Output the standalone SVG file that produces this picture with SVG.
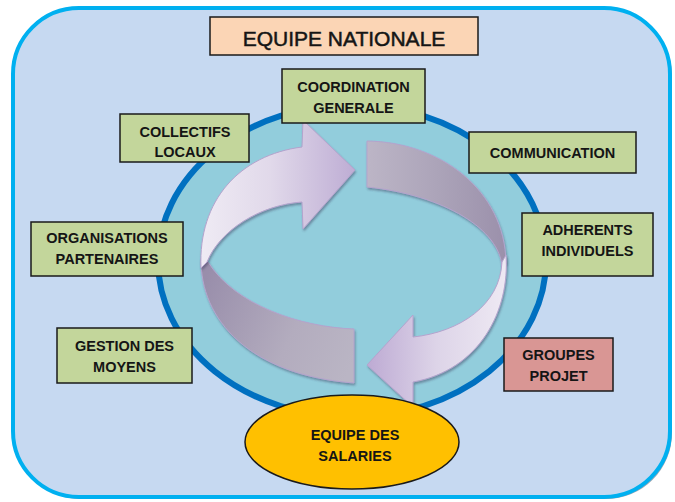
<svg xmlns="http://www.w3.org/2000/svg" width="675" height="502" viewBox="0 0 675 502">
<defs>
<style>
.box{fill:#C3D69B;stroke:#1a1a1a;stroke-width:1.5}
.red{fill:#D99694}
.lbl{font-family:"Liberation Sans",Arial,sans-serif;font-weight:bold;font-size:14.5px;fill:#151515;text-anchor:middle}
.title{font-family:"Liberation Sans",Arial,sans-serif;font-size:21px;fill:#151515;stroke:#151515;stroke-width:0.5;text-anchor:middle}
.arr{stroke:#B4A3CD;stroke-width:1;filter:url(#sh)}
</style>
<linearGradient id="gL1" x1="200" y1="0" x2="355" y2="0" gradientUnits="userSpaceOnUse">
<stop offset="0" stop-color="#EFEBF4"/><stop offset="0.45" stop-color="#E1D9EA"/><stop offset="1" stop-color="#BEADD4"/>
</linearGradient>
<linearGradient id="gL2" x1="200" y1="290" x2="354" y2="360" gradientUnits="userSpaceOnUse">
<stop offset="0" stop-color="#998EAB"/><stop offset="0.6" stop-color="#B3ACBE"/><stop offset="1" stop-color="#BAB5C4"/>
</linearGradient>
<linearGradient id="gR1" x1="367" y1="0" x2="506" y2="0" gradientUnits="userSpaceOnUse">
<stop offset="0" stop-color="#BCB5C6"/><stop offset="0.5" stop-color="#ACA4B9"/><stop offset="1" stop-color="#9B90AB"/>
</linearGradient>
<linearGradient id="gR2" x1="506" y1="0" x2="367" y2="0" gradientUnits="userSpaceOnUse">
<stop offset="0" stop-color="#EEE9F3"/><stop offset="0.5" stop-color="#DDD4E8"/><stop offset="1" stop-color="#BDAAD3"/>
</linearGradient>
<filter id="sh" x="-10%" y="-10%" width="130%" height="130%">
<feDropShadow dx="1" dy="2" stdDeviation="1.2" flood-color="#3a3a5a" flood-opacity="0.45"/>
</filter>
</defs>

<g id="frame">
<rect x="15" y="10" width="657" height="489" rx="66" fill="#9aa7b5"/>
<rect x="13" y="8" width="657" height="489" rx="66" fill="#C6D9F1" stroke="#00B0F0" stroke-width="4"/>
<ellipse cx="352" cy="261" rx="194" ry="156" fill="#92CDDC" stroke="#0070C0" stroke-width="6"/>
</g>

<g id="connectors">
<path class="arr" fill="url(#gL2)" d="M 201,258 C 200,320 250,375 354,383 L 354,329 C 300,327 235,305 208,262 Z"/>
<path class="arr" fill="url(#gR1)" d="M 367,141 C 440,142 505,190 506,263 L 502,267 C 500,230 445,195 367,187 Z"/>
<path class="arr" fill="url(#gL1)" d="M 201,268 C 198,200 240,155 302,147 L 303,120 L 355,170 L 303,229 L 302,202 C 260,205 220,230 207,262 Z"/>
<path class="arr" fill="url(#gR2)" d="M 506,255 C 510,310 480,370 413,382 L 413,407 L 367,365 L 413,315 L 413,337 C 460,332 500,305 502,262 Z"/>
</g>

<g id="equipe-nationale">
<rect x="210" y="17" width="268" height="38" fill="#FBD5B5" stroke="#1a1a1a" stroke-width="1.5"/>
<text class="title" x="344" y="46">EQUIPE NATIONALE</text>
</g>

<g id="coordination">
<rect class="box" x="282" y="69" width="143" height="54"/>
<text class="lbl" x="353.5" y="92">COORDINATION</text>
<text class="lbl" x="353.5" y="113">GENERALE</text>
</g>

<g id="collectifs">
<rect class="box" x="120" y="114" width="129" height="48"/>
<text class="lbl" x="185" y="137">COLLECTIFS</text>
<text class="lbl" x="185" y="157">LOCAUX</text>
</g>

<g id="communication">
<rect class="box" x="469" y="132" width="167" height="41"/>
<text class="lbl" x="552.5" y="158">COMMUNICATION</text>
</g>

<g id="organisations">
<rect class="box" x="31" y="222" width="152" height="54"/>
<text class="lbl" x="107" y="243">ORGANISATIONS</text>
<text class="lbl" x="107" y="264">PARTENAIRES</text>
</g>

<g id="adherents">
<rect class="box" x="522" y="213" width="131" height="63"/>
<text class="lbl" x="587.5" y="235">ADHERENTS</text>
<text class="lbl" x="587.5" y="256">INDIVIDUELS</text>
</g>

<g id="gestion">
<rect class="box" x="57" y="328" width="135" height="55"/>
<text class="lbl" x="124.5" y="351">GESTION DES</text>
<text class="lbl" x="124.5" y="372">MOYENS</text>
</g>

<g id="groupes">
<rect class="box red" x="504" y="338" width="109" height="53"/>
<text class="lbl" x="558.5" y="360">GROUPES</text>
<text class="lbl" x="558.5" y="381">PROJET</text>
</g>

<g id="salaries">
<ellipse cx="352" cy="442" rx="107" ry="47" fill="#FFC000" stroke="#1a1a1a" stroke-width="1.5"/>
<text class="lbl" x="355" y="440">EQUIPE DES</text>
<text class="lbl" x="355" y="461">SALARIES</text>
</g>
</svg>
